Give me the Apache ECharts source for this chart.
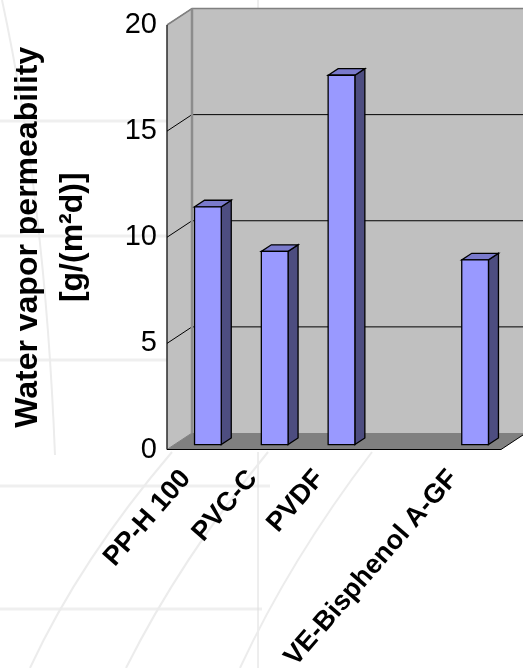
<!DOCTYPE html>
<html>
<head>
<meta charset="utf-8">
<script src="https://cdn.jsdelivr.net/npm/echarts@6/dist/echarts.min.js"></script>
<style>
  html, body { margin: 0; padding: 0; background: #ffffff; }
  #chart { width: 523px; height: 668px; }
</style>
</head>
<body>
<div id="chart"></div>
<script>
// Materials and their water vapour permeability in g/(m²d)
const categories = ['PP-H 100', 'PVC-C', 'PVDF', '', 'VE-Bisphenol A-GF'];
const permeability = [11.2, 9.1, 17.4, null, 8.7];
const yTicks = [0, 5, 10, 15, 20];

// Pseudo-3D depth of the plot box (pixels from front plane to back wall)
const DEPTH_X = 25;
const DEPTH_Y = -16.5;
// Bars sit between these fractions of the depth
const BAR_D0 = 0.3;
const BAR_D1 = 0.7;
const BAR_WIDTH = 0.4;

const chart = echarts.init(document.getElementById('chart'), null, { renderer: 'canvas' });

function wallsRender(params, api) {
  const band = api.size([1, 0])[0];
  const p0 = api.coord([0, yTicks[0]]);
  const pTop = api.coord([0, yTicks[yTicks.length - 1]]);
  const L = p0[0] - band / 2;
  const R = L + categories.length * band;
  const y0 = p0[1];
  const yT = pTop[1];
  const children = [];
  // back wall
  children.push({
    type: 'polygon',
    shape: { points: [[L + DEPTH_X, yT + DEPTH_Y], [R + DEPTH_X + 40, yT + DEPTH_Y], [R + DEPTH_X + 40, y0 + DEPTH_Y], [L + DEPTH_X, y0 + DEPTH_Y]] },
    style: { fill: '#c0c0c0', stroke: null }
  });
  // side wall
  children.push({
    type: 'polygon',
    shape: { points: [[L, yT], [L + DEPTH_X, yT + DEPTH_Y], [L + DEPTH_X, y0 + DEPTH_Y], [L, y0]] },
    style: { fill: '#c0c0c0', stroke: '#808080', lineWidth: 1 }
  });
  // grid lines on both walls
  yTicks.slice(1, -1).forEach(function (v) {
    const y = api.coord([0, v])[1];
    children.push({
      type: 'polyline',
      shape: { points: [[L, y], [L + DEPTH_X, y + DEPTH_Y], [R + DEPTH_X + 40, y + DEPTH_Y]] },
      style: { stroke: '#000000', lineWidth: 1, fill: null }
    });
  });
  // top edge of back wall
  children.push({
    type: 'polyline',
    shape: { points: [[L, yT], [L + DEPTH_X, yT + DEPTH_Y], [R + DEPTH_X + 40, yT + DEPTH_Y]] },
    style: { stroke: '#808080', lineWidth: 1.5, fill: null }
  });
  // back corner edge
  children.push({
    type: 'line',
    shape: { x1: L + DEPTH_X, y1: yT + DEPTH_Y, x2: L + DEPTH_X, y2: y0 + DEPTH_Y },
    style: { stroke: '#8c8c8c', lineWidth: 2.5 }
  });
  // floor
  children.push({
    type: 'polygon',
    shape: { points: [[L, y0], [L + DEPTH_X, y0 + DEPTH_Y], [R + DEPTH_X, y0 + DEPTH_Y], [R, y0]] },
    style: { fill: '#808080', stroke: null }
  });
  children.push({
    type: 'polyline',
    shape: { points: [[L, yT], [L, y0], [R, y0], [R + DEPTH_X, y0 + DEPTH_Y]] },
    style: { stroke: '#000000', lineWidth: 1, fill: null }
  });
  return { type: 'group', children: children };
}

function barRender(params, api) {
  const v = api.value(1);
  if (v == null || isNaN(v)) return null;
  const band = api.size([1, 0])[0];
  const c = api.coord([api.value(0), v]);
  const b = api.coord([api.value(0), 0]);
  const w = band * BAR_WIDTH;
  const ox = BAR_D0 * DEPTH_X, oy = BAR_D0 * DEPTH_Y;
  const dx = (BAR_D1 - BAR_D0) * DEPTH_X, dy = (BAR_D1 - BAR_D0) * DEPTH_Y;
  const x0 = c[0] - w / 2 + ox, x1 = c[0] + w / 2 + ox;
  const yt = c[1] + oy, yb = b[1] + oy;
  const edge = { stroke: '#000000', lineWidth: 1.3, lineJoin: 'miter' };
  return {
    type: 'group',
    children: [
      { type: 'polygon', shape: { points: [[x1, yt], [x1 + dx, yt + dy], [x1 + dx, yb + dy], [x1, yb]] },
        style: Object.assign({ fill: '#4d4d80' }, edge) },
      { type: 'polygon', shape: { points: [[x0, yt], [x1, yt], [x1 + dx, yt + dy], [x0 + dx, yt + dy]] },
        style: Object.assign({ fill: '#7a7acc' }, edge) },
      { type: 'rect', shape: { x: x0, y: yt, width: x1 - x0, height: yb - yt },
        style: Object.assign({ fill: '#9999ff' }, edge) }
    ]
  };
}

// faint background pattern
const bgLine = { stroke: '#efefef', lineWidth: 3 };
const background = [
  { type: 'line', shape: { x1: 0, y1: 121, x2: 167, y2: 121 }, style: bgLine },
  { type: 'line', shape: { x1: 0, y1: 236, x2: 167, y2: 236 }, style: bgLine },
  { type: 'line', shape: { x1: 0, y1: 360, x2: 167, y2: 360 }, style: bgLine },
  { type: 'line', shape: { x1: 0, y1: 486, x2: 270, y2: 486 }, style: bgLine },
  { type: 'line', shape: { x1: 0, y1: 609, x2: 262, y2: 609 }, style: bgLine },
  { type: 'line', shape: { x1: 258, y1: 452, x2: 258, y2: 668 }, style: { stroke: '#dcdcdc', lineWidth: 1 } },
  { type: 'line', shape: { x1: 258, y1: 0, x2: 258, y2: 8 }, style: { stroke: '#dcdcdc', lineWidth: 1 } },
  { type: 'bezierCurve', shape: { x1: 30, y1: 668, x2: 172, y2: 452, cpx1: 80, cpy1: 560 }, style: { stroke: '#ececec', lineWidth: 2, fill: null } },
  { type: 'bezierCurve', shape: { x1: 126, y1: 668, x2: 268, y2: 452, cpx1: 180, cpy1: 560 }, style: { stroke: '#ececec', lineWidth: 2, fill: null } },
  { type: 'bezierCurve', shape: { x1: 240, y1: 668, x2: 372, y2: 452, cpx1: 290, cpy1: 560 }, style: { stroke: '#ececec', lineWidth: 2, fill: null } },
  { type: 'bezierCurve', shape: { x1: 2, y1: 0, x2: 55, y2: 455, cpx1: 45, cpy1: 200 }, style: { stroke: '#ececec', lineWidth: 2, fill: null } }
];

const option = {
  backgroundColor: '#ffffff',
  animation: false,
  graphic: background.map(function (g) { return Object.assign({ z: -10, silent: true }, g); }),
  grid: { left: 167, top: 25, width: 334, height: 424.5, containLabel: false, outerBoundsMode: 'none' },
  xAxis: {
    type: 'category',
    data: categories,
    axisLine: { show: false },
    axisTick: { show: false },
    splitLine: { show: false },
    axisLabel: {
      interval: 0,
      rotate: 49,
      margin: 8,
      padding: [0, 22, 0, 0],
      color: '#000000',
      fontFamily: 'Liberation Sans',
      fontWeight: 'bold',
      fontSize: 27
    }
  },
  yAxis: {
    type: 'value',
    min: 0,
    max: 20,
    interval: 5,
    name: 'Water vapor permeability\n[g/(m²d)]',
    nameLocation: 'middle',
    nameRotate: 90,
    nameGap: 71,
    nameTextStyle: {
      color: '#000000',
      fontFamily: 'Liberation Sans',
      fontWeight: 'bold',
      fontSize: 32,
      lineHeight: 45
    },
    axisLine: { show: false },
    axisTick: { show: false },
    splitLine: { show: false },
    axisLabel: {
      margin: 10,
      color: '#000000',
      fontFamily: 'Liberation Sans',
      fontSize: 29
    }
  },
  series: [
    {
      type: 'custom',
      name: 'walls',
      z: 1,
      silent: true,
      renderItem: wallsRender,
      data: [[0, 0]]
    },
    {
      type: 'custom',
      name: 'Water vapor permeability',
      z: 2,
      renderItem: barRender,
      encode: { x: 0, y: 1 },
      data: permeability.map(function (v, i) { return [i, v]; })
    }
  ]
};

chart.setOption(option);
</script>
</body>
</html>
